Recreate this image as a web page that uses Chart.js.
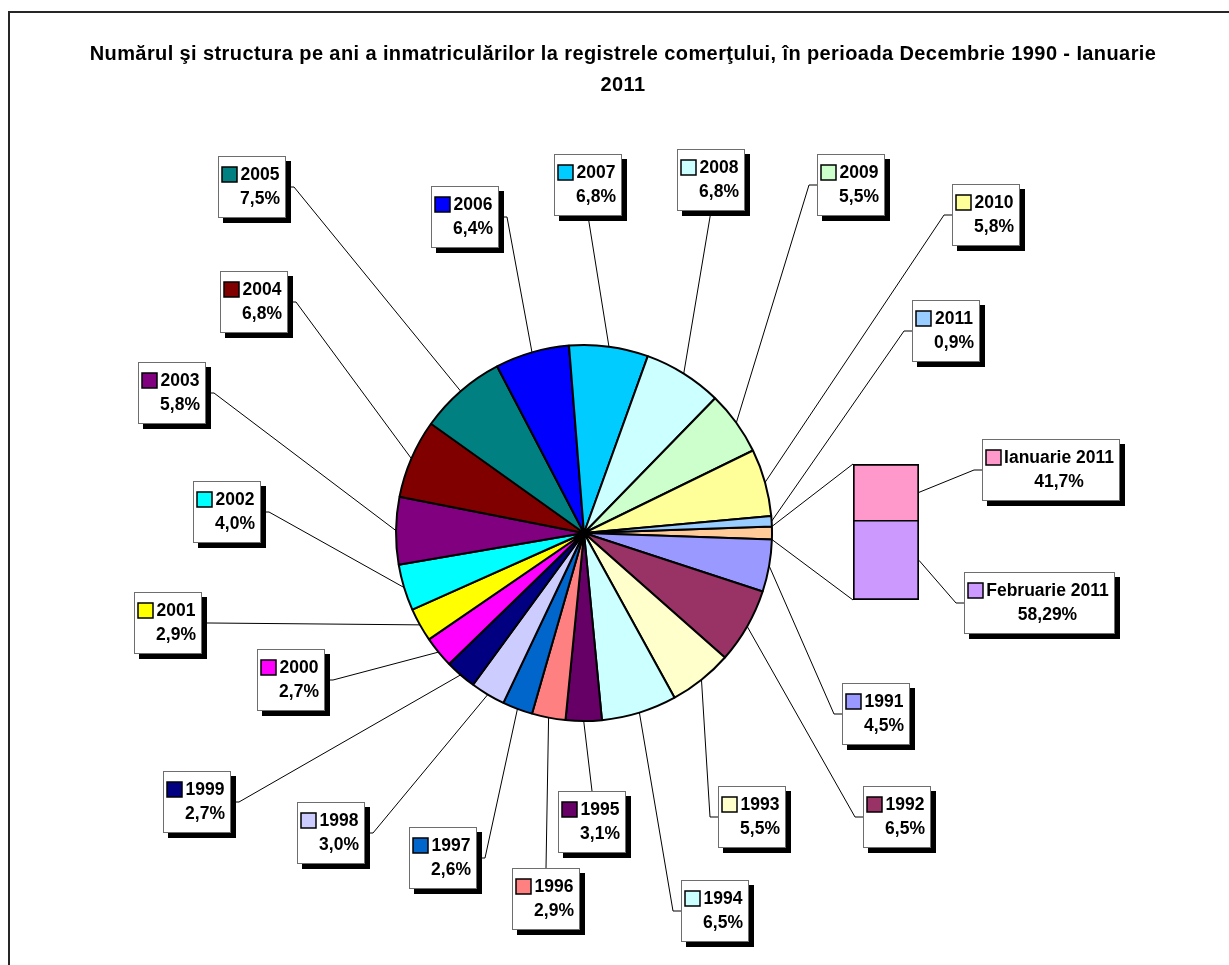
<!DOCTYPE html>
<html>
<head>
<meta charset="utf-8">
<title>Inmatriculări la registrele comerţului</title>
<script src="https://cdn.jsdelivr.net/npm/chart.js@4.4.1/dist/chart.umd.min.js"></script>
<style>
  html, body { margin: 0; padding: 0; background: #fff; }
  #wrap { position: relative; width: 1229px; height: 965px; overflow: hidden; }
  #pie { position: absolute; left: 0; top: 0; }
  #bar { position: absolute; left: 848px; top: 459px; }
</style>
</head>
<body>
<div id="wrap">
  <canvas id="pie" width="1229" height="965"></canvas>
  <canvas id="bar" width="76" height="146"></canvas>
</div>
<script>
// Chart data
const titleLines = [
    'Numărul şi structura pe ani a inmatriculărilor la registrele comerţului, în perioada Decembrie 1990 - Ianuarie',
    '2011'
];
const pieLabels = ['Altele', '1991', '1992', '1993', '1994', '1995', '1996', '1997', '1998', '1999', '2000',
    '2001', '2002', '2003', '2004', '2005', '2006', '2007', '2008', '2009', '2010', '2011'];
const pieValues = [1.1, 4.5, 6.5, 5.5, 6.5, 3.1, 2.9, 2.6, 3.0, 2.7, 2.7,
    2.9, 4.0, 5.8, 6.8, 7.5, 6.4, 6.8, 6.8, 5.5, 5.8, 0.9];
const pieColors = ['#FFCC99', '#9999FF', '#993366', '#FFFFCC', '#CCFFFF', '#660066', '#FF8080', '#0066CC',
    '#CCCCFF', '#000080', '#FF00FF', '#FFFF00', '#00FFFF', '#800080', '#800000', '#008080', '#0000FF',
    '#00CCFF', '#CCFFFF', '#CCFFCC', '#FFFF99', '#99CCFF'];
const barLabels = ['Februarie 2011', 'Ianuarie 2011'];
const barValues = [58.29, 41.7];
const barColors = ['#CC99FF', '#FF99CC'];

// Where the callout boxes sit (x, y of box, side the leader line leaves from)
const pieLabelPos = [null,
    [842, 683, 'l'], [863, 786, 'l'], [718, 786, 'l'], [681, 880, 'l'], [558, 791, 't'],
    [512, 868, 't'], [409, 827, 'r'], [297, 802, 'r'], [163, 771, 'r'], [257, 649, 'r'],
    [134, 592, 'r'], [193, 481, 'r'], [138, 362, 'r'], [220, 271, 'r'], [218, 156, 'r'],
    [431, 186, 'r'], [554, 154, 'b'], [677, 149, 'b'], [817, 154, 'l'], [952, 184, 'l'],
    [912, 300, 'l']];
const barLabelPos = [[964, 572, 'l'], [982, 439, 'l']];

const LABEL_FONT = 'bold 17.5px "Liberation Sans", Arial, sans-serif';
const TITLE_FONT = 'bold 20px "Liberation Sans", Arial, sans-serif';

const pieText = v => v.toFixed(1).replace('.', ',') + '%';
const barText = v => String(v).replace('.', ',') + '%';

// Bar of the "other" slice
const barTotal = barValues.reduce((a, b) => a + b, 0);
const barChart = new Chart(document.getElementById('bar'), {
    type: 'bar',
    data: {
        labels: ['Altele'],
        datasets: barLabels.map((lab, i) => ({
            label: lab,
            data: [barValues[i]],
            backgroundColor: barColors[i],
            borderColor: '#000',
            borderWidth: i === 0 ? { top: 1, left: 2, right: 2, bottom: 2 } : { top: 2, left: 2, right: 2, bottom: 1 },
            borderSkipped: false,
            barPercentage: 1,
            categoryPercentage: 1
        }))
    },
    options: {
        responsive: false,
        animation: false,
        layout: { padding: 5 },
        plugins: { legend: { display: false }, tooltip: { enabled: false } },
        scales: {
            x: { stacked: true, display: false },
            y: { stacked: true, display: false, min: 0, max: barTotal }
        }
    }
});

function labelBox(ctx, pos, name, pct) {
    ctx.font = LABEL_FONT;
    const tw = Math.max(ctx.measureText(name).width, ctx.measureText(pct).width);
    return { x: pos[0], y: pos[1], w: Math.round(4 + 15 + 2 + tw + 7), h: 62, side: pos[2] };
}

function attachPoints(b) {
    const my = b.y + b.h / 2;
    if (b.side === 'l') return [[b.x, my], [b.x - 8, my]];
    if (b.side === 'r') return [[b.x + b.w, my], [b.x + b.w + 8, my]];
    if (b.side === 't') return [[b.x + b.w / 2, b.y]];
    return [[b.x + b.w / 2, b.y + b.h]];
}

function drawLine(ctx, pts) {
    ctx.beginPath();
    ctx.moveTo(pts[0][0], pts[0][1]);
    for (let i = 1; i < pts.length; i++) ctx.lineTo(pts[i][0], pts[i][1]);
    ctx.stroke();
}

function drawBox(ctx, b, name, pct, color) {
    ctx.fillStyle = '#000';
    ctx.fillRect(b.x + 5, b.y + 5, b.w, b.h);
    ctx.fillStyle = '#fff';
    ctx.fillRect(b.x, b.y, b.w, b.h);
    ctx.strokeStyle = '#6e6e6e';
    ctx.lineWidth = 1;
    ctx.strokeRect(b.x + 0.5, b.y + 0.5, b.w - 1, b.h - 1);

    // legend key
    ctx.fillStyle = color;
    ctx.fillRect(b.x + 4, b.y + 11, 15, 15);
    ctx.strokeStyle = '#000';
    ctx.lineWidth = 1.5;
    ctx.strokeRect(b.x + 4, b.y + 11, 15, 15);

    ctx.fillStyle = '#000';
    ctx.font = LABEL_FONT;
    ctx.textAlign = 'center';
    ctx.textBaseline = 'middle';
    const cx = b.x + 21 + (b.w - 26) / 2;
    ctx.fillText(name, cx, b.y + 19);
    ctx.fillText(pct, cx, b.y + 43);
}

const calloutPlugin = {
    id: 'callouts',
    beforeDraw(chart) {
        const ctx = chart.ctx;
        ctx.save();
        ctx.fillStyle = '#fff';
        ctx.fillRect(0, 0, chart.width, chart.height);
        // chart frame
        ctx.strokeStyle = '#262626';
        ctx.lineWidth = 2;
        ctx.strokeRect(9, 12, 1300, 1100);
        // title
        ctx.fillStyle = '#000';
        ctx.font = TITLE_FONT;
        ctx.letterSpacing = '0.4px';
        ctx.textAlign = 'center';
        ctx.textBaseline = 'middle';
        titleLines.forEach((t, i) => ctx.fillText(t, 623, 54 + i * 31));
        ctx.restore();
    },
    afterDraw(chart) {
        const ctx = chart.ctx;
        const arcs = chart.getDatasetMeta(0).data;
        const barCanvas = barChart.canvas;
        const ox = barCanvas.offsetLeft, oy = barCanvas.offsetTop;
        const bars = barLabels.map((_, i) => barChart.getDatasetMeta(i).data[0]);

        ctx.save();
        ctx.strokeStyle = '#000';
        ctx.lineWidth = 1;

        // pie -> bar connectors
        const other = arcs[0];
        const barLeft = ox + bars[0].x - bars[0].width / 2;
        const barTop = oy + bars[bars.length - 1].y;
        const barBottom = oy + bars[0].base;
        drawLine(ctx, [[other.x + Math.cos(other.startAngle) * other.outerRadius,
            other.y + Math.sin(other.startAngle) * other.outerRadius], [barLeft, barTop]]);
        drawLine(ctx, [[other.x + Math.cos(other.endAngle) * other.outerRadius,
            other.y + Math.sin(other.endAngle) * other.outerRadius], [barLeft, barBottom]]);

        const boxes = [];
        arcs.forEach((arc, i) => {
            const pos = pieLabelPos[i];
            if (!pos) return;
            const name = pieLabels[i], pct = pieText(pieValues[i]);
            const b = labelBox(ctx, pos, name, pct);
            const mid = (arc.startAngle + arc.endAngle) / 2;
            const end = [arc.x + Math.cos(mid) * arc.outerRadius, arc.y + Math.sin(mid) * arc.outerRadius];
            drawLine(ctx, attachPoints(b).concat([end]));
            boxes.push([b, name, pct, pieColors[i]]);
        });
        bars.forEach((bar, i) => {
            const name = barLabels[i], pct = barText(barValues[i]);
            const b = labelBox(ctx, barLabelPos[i], name, pct);
            const end = [ox + bar.x + bar.width / 2, oy + (bar.y + bar.base) / 2];
            drawLine(ctx, attachPoints(b).concat([end]));
            boxes.push([b, name, pct, barColors[i]]);
        });

        boxes.forEach(([b, name, pct, color]) => drawBox(ctx, b, name, pct, color));
        ctx.restore();
    }
};

const total = pieValues.reduce((a, b) => a + b, 0);
new Chart(document.getElementById('pie'), {
    type: 'pie',
    data: {
        labels: pieLabels,
        datasets: [{
            data: pieValues,
            backgroundColor: pieColors,
            borderColor: '#000',
            borderWidth: 2
        }]
    },
    options: {
        responsive: false,
        animation: false,
        // keep the "other" slice centred on the right-hand side
        rotation: 90 - (pieValues[0] / total) * 180,
        radius: 188,
        layout: { padding: { left: 200, right: 261, top: 300, bottom: 199 } },
        plugins: { legend: { display: false }, tooltip: { enabled: false }, title: { display: false } }
    },
    plugins: [calloutPlugin]
});
</script>
</body>
</html>
